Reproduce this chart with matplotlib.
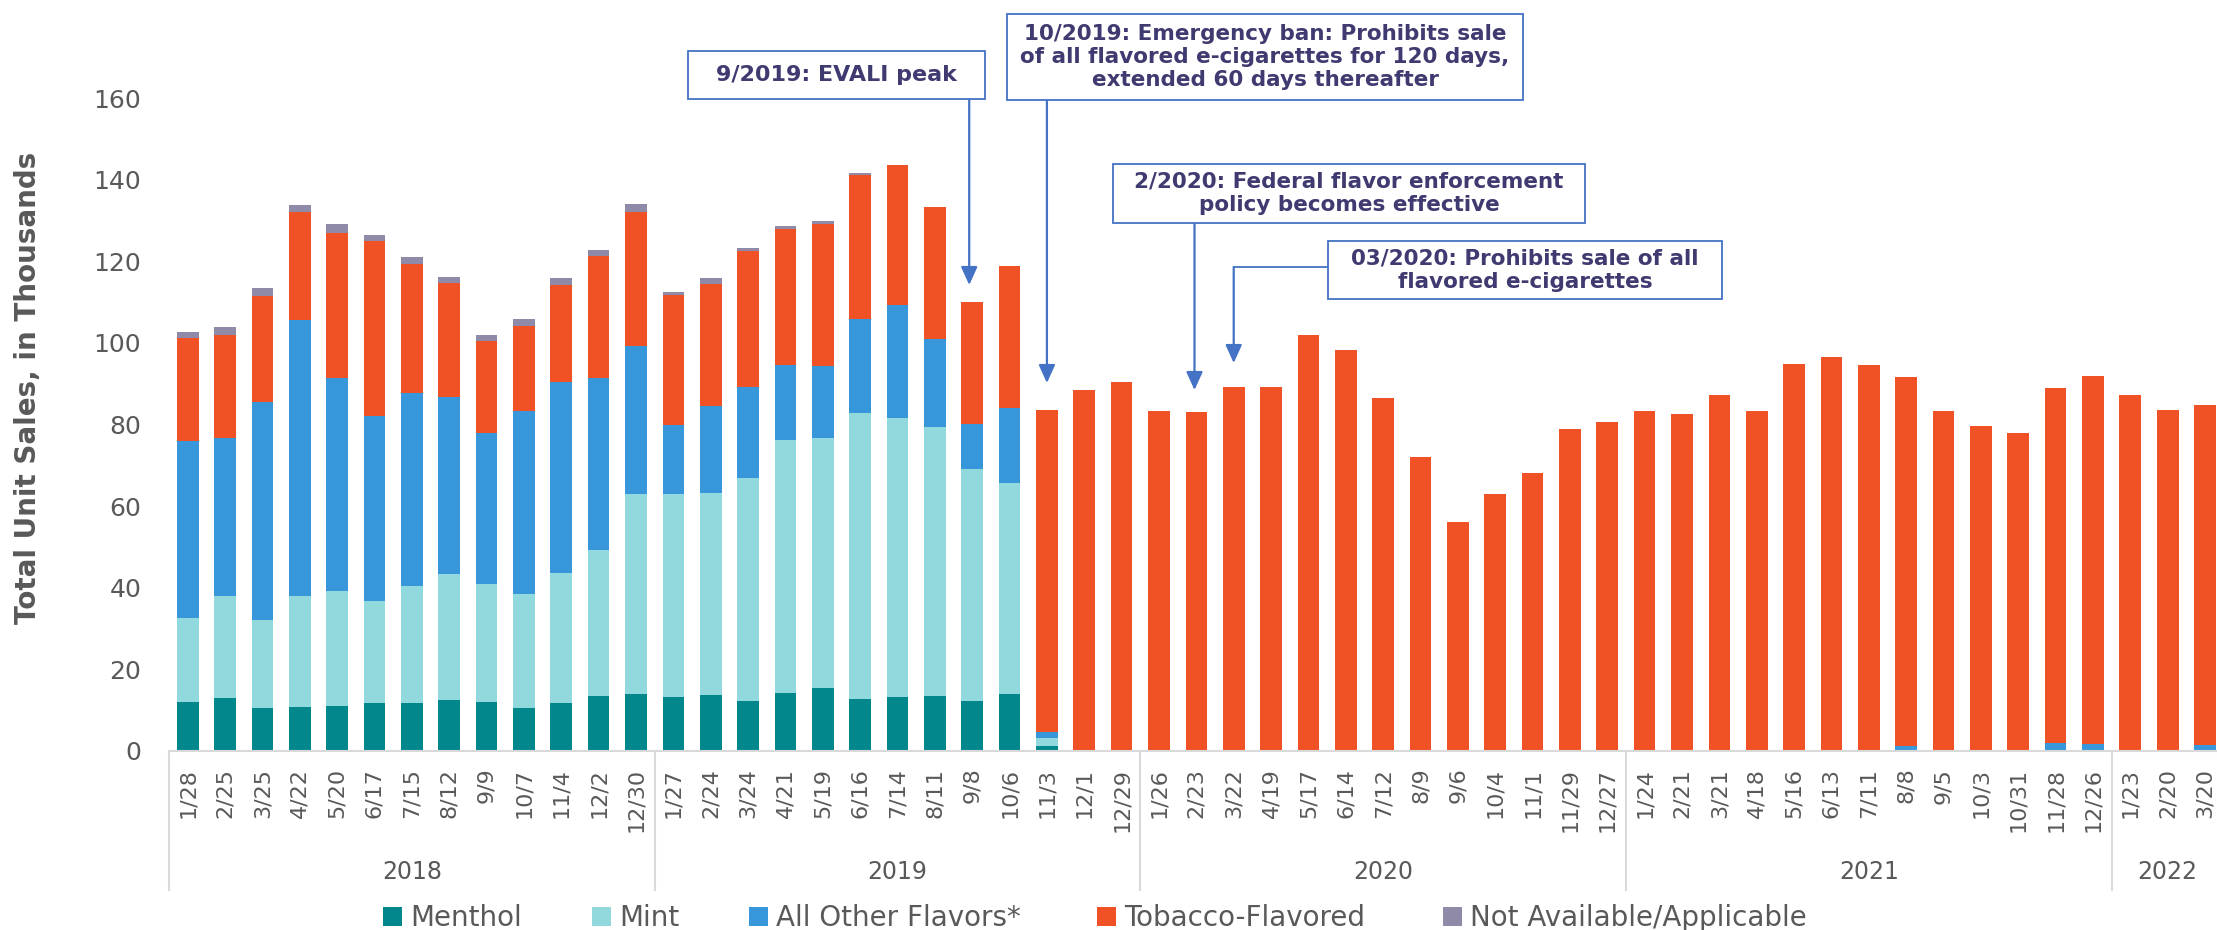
import matplotlib
matplotlib.use("Agg")
import matplotlib.pyplot as plt
from matplotlib.patches import Rectangle, FancyArrowPatch
from matplotlib.lines import Line2D
import numpy as np

# ---------------- data ----------------
dates = ['1/28', '2/25', '3/25', '4/22', '5/20', '6/17', '7/15', '8/12', '9/9', '10/7', '11/4', '12/2', '12/30',
         '1/27', '2/24', '3/24', '4/21', '5/19', '6/16', '7/14', '8/11', '9/8', '10/6', '11/3', '12/1', '12/29',
         '1/26', '2/23', '3/22', '4/19', '5/17', '6/14', '7/12', '8/9', '9/6', '10/4', '11/1', '11/29', '12/27',
         '1/24', '2/21', '3/21', '4/18', '5/16', '6/13', '7/11', '8/8', '9/5', '10/3', '10/31', '11/28', '12/26',
         '1/23', '2/20', '3/20']
years = ['2018', '2019', '2020', '2021', '2022']
year_counts = [13, 13, 13, 13, 3]

menthol = [12.1, 13.0, 10.6, 10.8, 11.0, 11.8, 11.7, 12.5, 12.1, 10.5, 11.7, 13.5, 13.9,
           13.2, 13.6, 12.2, 14.3, 15.5, 12.8, 13.3, 13.5, 12.2, 14.0, 1.3, 0, 0,
           0, 0, 0, 0, 0, 0, 0, 0, 0, 0, 0, 0, 0,
           0, 0, 0, 0, 0, 0, 0, 0, 0, 0, 0, 0, 0,
           0, 0, 0]
mint = [20.4, 25.0, 21.4, 27.3, 28.3, 25.0, 28.8, 30.8, 28.7, 27.9, 32.0, 35.8, 49.1,
        49.7, 49.6, 54.6, 62.0, 61.2, 70.1, 68.2, 65.9, 56.9, 51.7, 2.0, 0, 0,
        0, 0, 0, 0, 0, 0, 0, 0, 0, 0, 0, 0, 0,
        0, 0, 0, 0, 0, 0, 0, 0, 0, 0, 0, 0, 0,
        0, 0, 0]
other_flavors = [43.5, 38.8, 53.5, 67.5, 52.2, 45.2, 47.1, 43.4, 37.1, 44.8, 46.8, 42.0, 36.3,
                 17.0, 21.3, 22.4, 18.4, 17.7, 22.9, 27.7, 21.5, 11.1, 18.4, 1.3, 0, 0,
                 0.3, 0, 0, 0, 0, 0, 0, 0, 0, 0, 0, 0, 0,
                 0, 0, 0, 0, 0, 0, 0, 1.2, 0.3, 0, 0, 1.9, 1.6,
                 0, 0, 1.5]
tobacco = [25.2, 25.2, 25.9, 26.4, 35.3, 42.9, 31.8, 28.0, 22.6, 21.0, 23.6, 29.9, 32.7,
           31.8, 30.0, 33.2, 33.2, 34.8, 35.4, 34.4, 32.3, 29.9, 34.7, 79.0, 88.4, 90.4,
           83.1, 83.1, 89.1, 89.1, 101.9, 98.3, 86.6, 72.1, 56.2, 62.9, 68.0, 79.0, 80.6,
           83.3, 82.5, 87.2, 83.3, 94.9, 96.5, 94.6, 90.5, 83.1, 79.6, 78.0, 87.0, 90.4,
           87.2, 83.6, 83.4]
not_available = [1.5, 1.9, 2.0, 1.7, 2.4, 1.6, 1.6, 1.5, 1.5, 1.7, 1.8, 1.6, 2.1,
                 0.7, 1.4, 0.8, 0.8, 0.7, 0.5, 0, 0, 0, 0, 0, 0, 0,
                 0, 0, 0, 0, 0, 0, 0, 0, 0, 0, 0, 0, 0,
                 0, 0, 0, 0, 0, 0, 0, 0, 0, 0, 0, 0, 0,
                 0, 0, 0]

series_names = ['Menthol', 'Mint', 'All Other Flavors*', 'Tobacco-Flavored', 'Not Available/Applicable']
series_values = [menthol, mint, other_flavors, tobacco, not_available]
series_colors = ['#02878C', '#92D9DE', '#3897DB', '#F05125', '#8E8AA8']

y_ticks = [0, 20, 40, 60, 80, 100, 120, 140, 160]

annotations = [
    "9/2019: EVALI peak",
    "10/2019: Emergency ban: Prohibits sale\nof all flavored e-cigarettes for 120 days,\nextended 60 days thereafter",
    "2/2020: Federal flavor enforcement\npolicy becomes effective",
    "03/2020: Prohibits sale of all\nflavored e-cigarettes",
]

# ---------------- layout ----------------
W, H = 2217, 930
fig = plt.figure(figsize=(W / 100, H / 100), dpi=100)


def fx(px):
    return px / W


def fy(py):
    return 1 - py / H


AX_L, AX_B, AX_T = 169, 751, 98
ax = fig.add_axes([fx(AX_L), fy(AX_B), 1 - fx(AX_L), (AX_B - AX_T) / H])

GRAY = '#595959'
LINE_GRAY = '#D9D9D9'
ANN_COLOR = '#3F3A70'
BOX_COLOR = '#4472C4'

x = np.arange(len(dates))
bottom = np.zeros(len(dates))
for vals, col in zip(series_values, series_colors):
    v = np.array(vals, dtype=float)
    ax.bar(x, v, bottom=bottom, width=0.58, color=col, linewidth=0)
    bottom += v

ax.set_xlim(-0.5, 54.32)
ax.set_ylim(0, 160)
ax.set_yticks(y_ticks)
ax.set_yticklabels([str(t) for t in y_ticks], fontsize=18, color=GRAY)
ax.set_xticks(x)
ax.set_xticklabels(dates, rotation=90, fontsize=16, color=GRAY, va='top')
ax.tick_params(axis='y', length=0, pad=20)
ax.tick_params(axis='x', length=0, pad=12)
for s in ['left', 'right', 'top']:
    ax.spines[s].set_visible(False)
ax.spines['bottom'].set_color(LINE_GRAY)
ax.spines['bottom'].set_linewidth(1.5)

# multi-level category axis: year groups
trans = ax.get_xaxis_transform()
ax_h = AX_B - AX_T
y_line_end = -(890 - AX_B) / ax_h
y_year = -(872 - AX_B) / ax_h
start = 0
bounds = [-0.5]
for yr, n in zip(years, year_counts):
    end = start + n
    bounds.append(end - 0.5)
    ax.text((start + end - 1) / 2, y_year, yr, transform=trans, ha='center', va='center',
            fontsize=17, color=GRAY)
    start = end
for b in bounds:
    ax.add_line(Line2D([b, b], [0, y_line_end], transform=trans, color=LINE_GRAY,
                       lw=1.5, clip_on=False))

# y label
fig.text(fx(28), fy(388), 'Total Unit Sales, in Thousands', rotation=90, ha='center', va='center',
         fontsize=20, fontweight='bold', color=GRAY)

# legend (manual)
legend_x = [383, 592, 749, 1097, 1443]
for name, col, lx in zip(series_names, series_colors, legend_x):
    fig.patches.append(Rectangle((fx(lx), fy(926)), 19 / W, 19 / H, transform=fig.transFigure,
                                 facecolor=col, edgecolor='none'))
    fig.text(fx(lx + 27), fy(926), name, ha='left', va='baseline', fontsize=20, color=GRAY)

# annotation boxes (pixel boxes: left, top, right, bottom)
boxes = [(688, 51, 985, 99), (1007, 14, 1523, 100), (1113, 164, 1585, 223), (1328, 241, 1722, 299)]
sizes = [16, 15.5, 15.5, 15.5]
for txt, (l, t, r, b), fs in zip(annotations, boxes, sizes):
    fig.patches.append(Rectangle((fx(l), fy(b)), (r - l) / W, (b - t) / H, transform=fig.transFigure,
                                 facecolor='white', edgecolor=BOX_COLOR, lw=1.3, zorder=5))
    fig.text(fx((l + r) / 2), fy((t + b) / 2), txt, ha='center', va='center', fontsize=fs,
             fontweight='bold', color=ANN_COLOR, linespacing=1.2, zorder=6)


def px_to_val(py):
    return (AX_B - py) / ((AX_B - AX_T) / 160)


def arrow(xd, y0, y1):
    a = FancyArrowPatch((xd, y0), (xd, y1), arrowstyle='-|>,head_length=1.1,head_width=0.5',
                        mutation_scale=10, color=BOX_COLOR, lw=1.6, clip_on=False,
                        shrinkA=0, shrinkB=0, zorder=4)
    ax.add_patch(a)


arrow(20.92, px_to_val(99), px_to_val(285))
arrow(23.0, px_to_val(100), px_to_val(383))
arrow(26.95, px_to_val(223), px_to_val(390))
# elbow connector for the 03/2020 box
x_box_left = (1328 - 187.5) / 37.36
ax.add_line(Line2D([x_box_left, 28.0], [px_to_val(267), px_to_val(267)], color=BOX_COLOR,
                   lw=1.3, clip_on=False, zorder=4))
arrow(28.0, px_to_val(267), px_to_val(363))

fig.savefig('out.png', dpi=100)
